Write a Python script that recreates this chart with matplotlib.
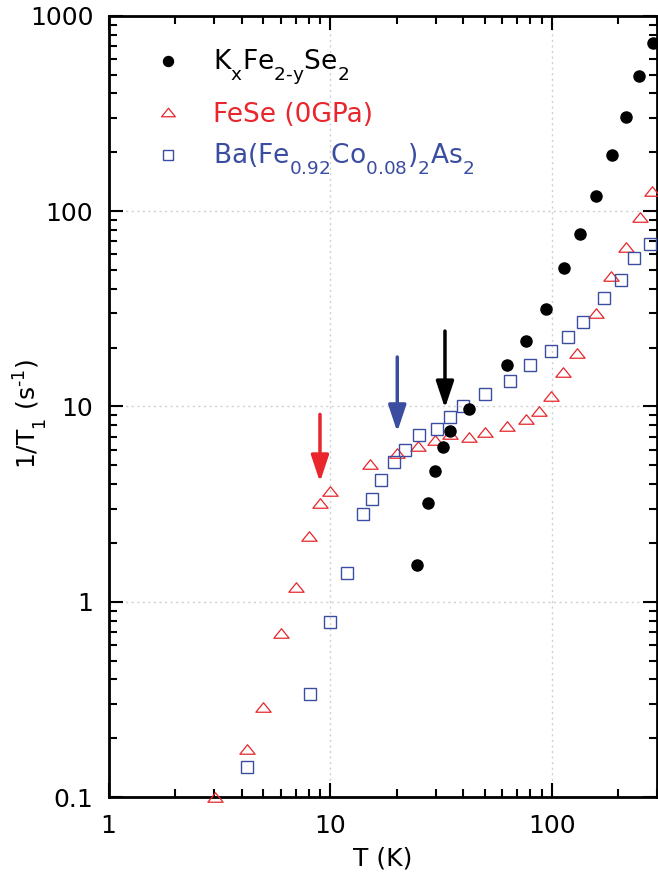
"""1/T1 vs T for KxFe2-ySe2, FeSe and Ba(Fe,Co)2As2 (log-log)."""

import matplotlib
matplotlib.use("Agg")
import matplotlib.pyplot as plt
import matplotlib._mathtext as mathtext_internal
from matplotlib.path import Path
from matplotlib.ticker import LogLocator, NullFormatter, FixedLocator

# -- Data --
kfs_T = [24.7, 27.7, 29.8, 32.4, 34.8, 42.4, 62.8, 76.4, 94, 114, 134, 159, 188, 217, 249, 287]
kfs_rate = [1.55, 3.22, 4.65, 6.2, 7.46, 9.7, 16.3, 21.6, 31.6, 51.3, 76.6, 119, 193, 302, 490, 724]

fese_T = [3.03, 4.2, 5.0, 6.0, 7.0, 8.0, 9.0, 10.0, 15.1, 20.1, 25, 29.9, 34.8, 42.4, 50,
          62.8, 76.4, 87.4, 99, 112, 130, 158, 186, 217, 251, 284]
fese_rate = [0.1, 0.176, 0.289, 0.69, 1.19, 2.18, 3.22, 3.67, 5.1, 5.8, 6.3, 6.7, 7.2, 7.0, 7.4,
             7.9, 8.6, 9.5, 11.3, 15, 18.8, 30.1, 46.6, 65.7, 93.7, 127]

bfca_T = [4.2, 8.1, 10.0, 11.9, 14.1, 15.5, 17.0, 19.5, 21.8, 25.3, 30.4, 34.8, 39.8, 50,
          64.7, 79.6, 99.8, 119, 139, 173, 206, 236, 279]
bfca_rate = [0.142, 0.337, 0.79, 1.41, 2.8, 3.34, 4.18, 5.2, 5.96, 7.1, 7.7, 8.8, 10.0, 11.6,
             13.5, 16.3, 19.2, 22.7, 27.1, 36, 44.5, 57.7, 68]

# Tc arrows
arrow_T = [9.0, 20.1, 33.0]
arrow_tail = [9.1, 17.9, 24.3]
arrow_tip = [4.1, 7.4, 9.8]

RED = "#e8262b"
BLUE = "#3a4da0"
arrow_colors = [RED, BLUE, "black"]

# subscripts sit lower in the original
mathtext_internal.FontConstantsBase.sub1 = 0.75
mathtext_internal.FontConstantsBase.sub2 = 0.75

plt.rcParams.update({
    "font.family": "DejaVu Sans",
    "font.size": 18,
    "mathtext.fontset": "dejavusans",
    "mathtext.default": "regular",
})

fig = plt.figure(figsize=(6.58, 8.73), dpi=100)
ax = fig.add_axes([0.165, 0.087, 0.834, 0.895])

tri = Path([(-1, -0.62), (1, -0.62), (0, 0.62), (-1, -0.62)], closed=True)

ax.plot(kfs_T, kfs_rate, "o", color="black", markersize=8, linestyle="none",
        label="K$_{x}$Fe$_{2\u2010y}$Se$_{2}$", zorder=4, clip_on=False)
ax.plot(fese_T, fese_rate, marker=tri, markersize=11, linestyle="none",
        markerfacecolor="none", markeredgecolor=RED, markeredgewidth=0.9,
        label="FeSe (0GPa)", zorder=3, clip_on=False)
ax.plot(bfca_T, bfca_rate, "s", markersize=8, linestyle="none",
        markerfacecolor="none", markeredgecolor=BLUE, markeredgewidth=1.0,
        label="Ba(Fe$_{0.92}$Co$_{0.08}$)$_{2}$As$_{2}$", zorder=3, clip_on=False)

for t, y0, y1, c in zip(arrow_T, arrow_tail, arrow_tip, arrow_colors):
    ax.annotate("", xy=(t, y1), xytext=(t, y0),
                arrowprops=dict(arrowstyle="-|>,head_length=0.9,head_width=0.3",
                                color=c, lw=2.5, shrinkA=0, shrinkB=0))

ax.set_xscale("log")
ax.set_yscale("log")
ax.set_xlim(1, 300)
ax.set_ylim(0.1, 1000)

ax.xaxis.set_major_locator(FixedLocator([1, 10, 100]))
ax.set_xticklabels(["1", "10", "100"])
ax.yaxis.set_major_locator(FixedLocator([0.1, 1, 10, 100, 1000]))
ax.set_yticklabels(["0.1", "1", "10", "100", "1000"])
for axis in (ax.xaxis, ax.yaxis):
    axis.set_minor_locator(LogLocator(base=10, subs=range(2, 10), numticks=20))
    axis.set_minor_formatter(NullFormatter())

ax.tick_params(which="both", direction="in", top=True, right=True, width=1.5)
ax.tick_params(which="major", length=10)
ax.tick_params(axis="x", which="major", pad=12)
ax.tick_params(axis="y", which="major", pad=11)
ax.tick_params(which="minor", length=6)
for sp in ax.spines.values():
    sp.set_linewidth(2)

ax.grid(True, which="major", linestyle=(0, (1.5, 2.5)), color="#cfcfcf", linewidth=1)

ax.set_xlabel("T (K)", labelpad=6)
ax.set_ylabel("1/T$_{1}$ (s$^{\u20101}$)")
ax.yaxis.set_label_coords(-0.108, 0.49)

leg = ax.legend(loc="upper left", bbox_to_anchor=(0.07, 0.972), frameon=False, fontsize=19,
                handlelength=0.8, handletextpad=1.3, labelspacing=0.55, borderaxespad=0,
                markerscale=0.9)
for txt, c in zip(leg.get_texts(), ["black", RED, BLUE]):
    txt.set_color(c)

fig.savefig("out.png", dpi=100)
print("Saved out.png")
